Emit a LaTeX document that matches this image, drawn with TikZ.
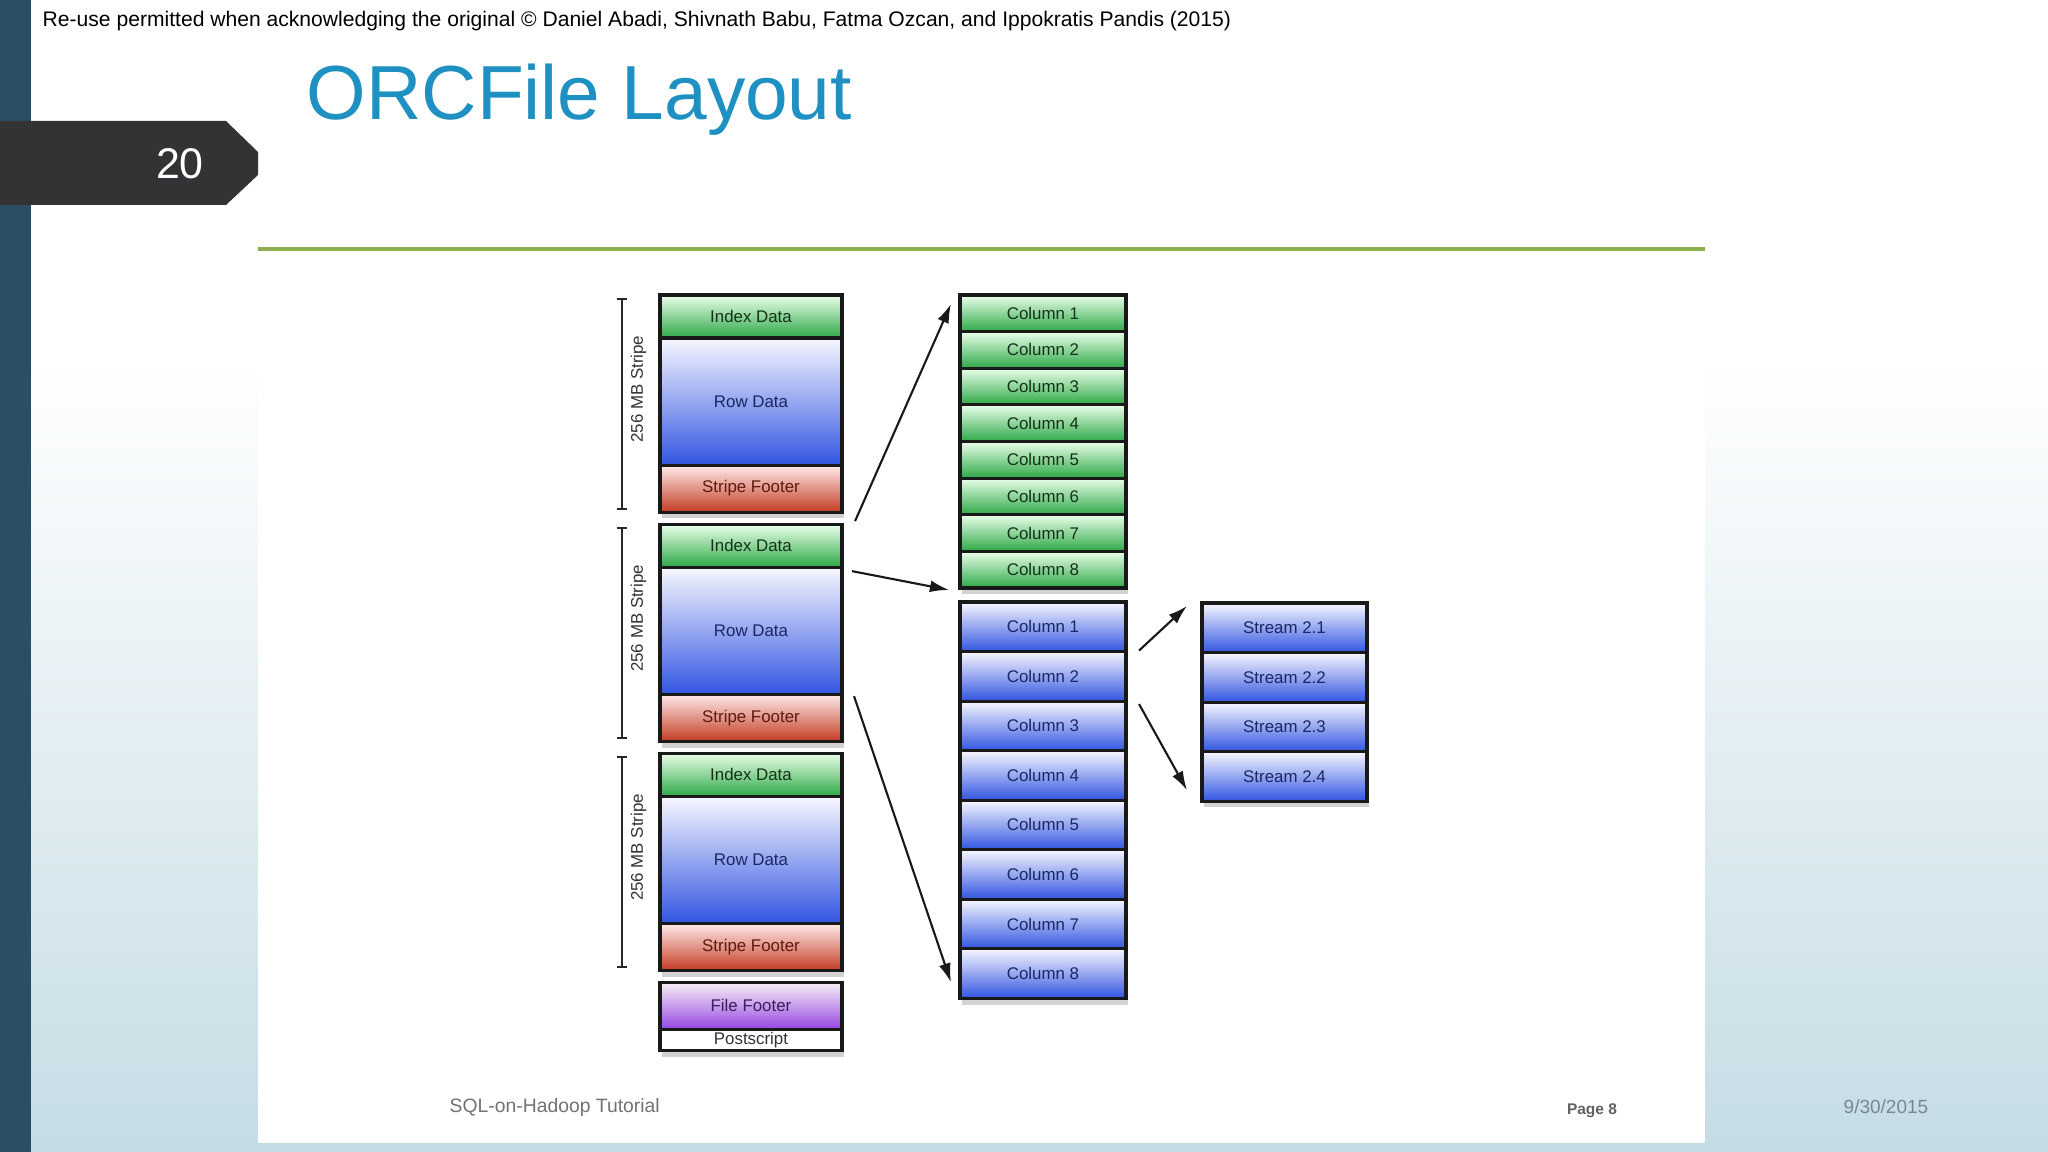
\documentclass[tikz,border=0pt]{standalone}
\usepackage{fontspec}
\setmainfont{Liberation Sans}
\usepackage{xcolor}
\usepackage{tikz}
\usetikzlibrary{arrows.meta, positioning, calc, shadows}

\definecolor{slidebar}{RGB}{43,78,101}
\definecolor{slidetab}{RGB}{51,50,53}
\definecolor{slidesky}{RGB}{197,220,229}
\definecolor{titleblue}{RGB}{30,144,194}
\definecolor{ruleolive}{RGB}{140,176,80}

\begin{document}
\begin{tikzpicture}[
    x=0.01cm, y=-0.01cm,
    every node/.style={font=\fontsize{4.8}{5.8}\selectfont},
    cell/.style={rectangle, draw=black!90, line width=0.9pt, outer sep=0pt, inner sep=0pt,
                 minimum width=1.82cm,
                 drop shadow={opacity=0.35, shadow xshift=0.5pt, shadow yshift=-1.8pt}},
    idx/.style={cell, minimum height=0.43cm, top color=green!8, bottom color={rgb,255:red,45;green,168;blue,70},
                text={rgb,255:red,20;green,50;blue,25}},
    rows/.style={cell, minimum height=1.27cm, top color=blue!3, bottom color={rgb,255:red,50;green,85;blue,225},
                 text={rgb,255:red,25;green,40;blue,100}},
    foot/.style={cell, minimum height=0.47cm, top color=red!8, bottom color={rgb,255:red,195;green,60;blue,35},
                 text={rgb,255:red,95;green,25;blue,15}},
    gcol/.style={idx, minimum width=1.66cm, minimum height=0.366cm},
    bcol/.style={rows, minimum width=1.66cm, minimum height=0.495cm},
    strm/.style={rows, minimum width=1.65cm, minimum height=0.495cm},
    brace/.style={{Bar[width=3pt]}-{Bar[width=3pt]}, line width=0.6pt, black!85},
    arr/.style={-{Latex[length=1.9mm, width=1.2mm]}, line width=0.6pt, black!90},
]
    \useasboundingbox (0,0) rectangle (2048,1152);

    % slide
    \fill[white] (0,0) rectangle (2048,1152);
    \shade[top color=white, bottom color=slidesky] (0,360) rectangle (2048,1152);
    \fill[slidebar] (0,0) rectangle (31,1152);
    \fill[white] (258,157) rectangle (1705,1143);
    \draw[ruleolive, line width=1.1pt] (258,249) -- (1705,249);
    \fill[slidetab] (0,121) -- (226,121) -- (258,152) -- (258,175) -- (226,205) -- (0,205) -- cycle;

    \node[anchor=west, inner sep=0pt, font=\fontsize{6.0}{7}\selectfont] (credit) at (42,21)
        {Re-use permitted when acknowledging the original \textcopyright{} Daniel Abadi, Shivnath Babu, Fatma Ozcan, and Ippokratis Pandis (2015)};
    \node[anchor=base west, inner sep=0pt, text=titleblue, font=\fontsize{21.8}{24}\selectfont] (title) at (306,120) {ORCFile Layout};
    \node[text=white, font=\fontsize{12.2}{14}\selectfont] (num) at (180,164) {20};

    \node[anchor=west, inner sep=0pt, text=black!55, font=\fontsize{5.5}{6.5}\selectfont] (talk) at (449,1107) {SQL-on-Hadoop Tutorial};
    \node[text=black!62, font=\fontsize{4.4}{5.4}\selectfont\bfseries] (page) at (1592,1111) {Page 8};
    \node[anchor=west, inner sep=0pt, text={rgb,255:red,120;green,135;blue,145}, font=\fontsize{5.4}{6.4}\selectfont] (date) at (1843,1107) {9/30/2015};

    % file
    \node[idx] (ix1) at (751,316.5) {Index Data};
    \node[rows, below=0cm of ix1] (rd1) {Row Data};
    \node[foot, below=0cm of rd1] (sf1) {Stripe Footer};
    \node[idx, below=0.12cm of sf1] (ix2) {Index Data};
    \node[rows, below=0cm of ix2] (rd2) {Row Data};
    \node[foot, below=0cm of rd2] (sf2) {Stripe Footer};
    \node[idx, below=0.12cm of sf2] (ix3) {Index Data};
    \node[rows, below=0cm of ix3] (rd3) {Row Data};
    \node[foot, below=0cm of rd3] (sf3) {Stripe Footer};
    \node[cell, minimum height=0.47cm, below=0.12cm of sf3, top color=violet!6,
          bottom color={rgb,255:red,150;green,70;blue,225}, text={rgb,255:red,60;green,30;blue,90}] (ff) {File Footer};
    \node[cell, minimum height=0.21cm, below=0cm of ff, fill=white, text=black!80] (ps) {Postscript};

    \draw[brace] ($(ix1.north west)+(-38,3)$) -- node[pos=0.43, rotate=90, anchor=north, inner sep=2.2pt, text=black!80] (lb1) {256 MB Stripe} ($(sf1.south west)+(-38,-2)$);
    \draw[brace] ($(ix2.north west)+(-38,3)$) -- node[pos=0.43, rotate=90, anchor=north, inner sep=2.2pt, text=black!80] (lb2) {256 MB Stripe} ($(sf2.south west)+(-38,-2)$);
    \draw[brace] ($(ix3.north west)+(-38,3)$) -- node[pos=0.43, rotate=90, anchor=north, inner sep=2.2pt, text=black!80] (lb3) {256 MB Stripe} ($(sf3.south west)+(-38,-2)$);

    % index columns
    \node[gcol] (g1) at (1043,313.3) {Column 1};
    \node[gcol, below=0cm of g1] (g2) {Column 2};
    \node[gcol, below=0cm of g2] (g3) {Column 3};
    \node[gcol, below=0cm of g3] (g4) {Column 4};
    \node[gcol, below=0cm of g4] (g5) {Column 5};
    \node[gcol, below=0cm of g5] (g6) {Column 6};
    \node[gcol, below=0cm of g6] (g7) {Column 7};
    \node[gcol, below=0cm of g7] (g8) {Column 8};

    % data columns
    \node[bcol] (b1) at (1043,626.8) {Column 1};
    \node[bcol, below=0cm of b1] (b2) {Column 2};
    \node[bcol, below=0cm of b2] (b3) {Column 3};
    \node[bcol, below=0cm of b3] (b4) {Column 4};
    \node[bcol, below=0cm of b4] (b5) {Column 5};
    \node[bcol, below=0cm of b5] (b6) {Column 6};
    \node[bcol, below=0cm of b6] (b7) {Column 7};
    \node[bcol, below=0cm of b7] (b8) {Column 8};

    % streams
    \node[strm] (st1) at (1284.5,627.8) {Stream 2.1};
    \node[strm, below=0cm of st1] (st2) {Stream 2.2};
    \node[strm, below=0cm of st2] (st3) {Stream 2.3};
    \node[strm, below=0cm of st3] (st4) {Stream 2.4};

    \draw[arr] ($(sf1.south east)+(13,9)$) -- ($(g1.north west)+(-9,9)$);
    \draw[arr] ($(ix2.south east)+(10,4)$) -- ($(g8.south west)+(-11,2)$);
    \draw[arr] ($(rd2.south east)+(12,2)$) -- ($(b8.south west)+(-9,-16)$);
    \draw[arr] ($(b1.south east)+(13,-1)$) -- ($(st1.north west)+(-15,3)$);
    \draw[arr] ($(b2.south east)+(13,3)$) -- ($(st4.south west)+(-15,-11)$);
\end{tikzpicture}
\end{document}
